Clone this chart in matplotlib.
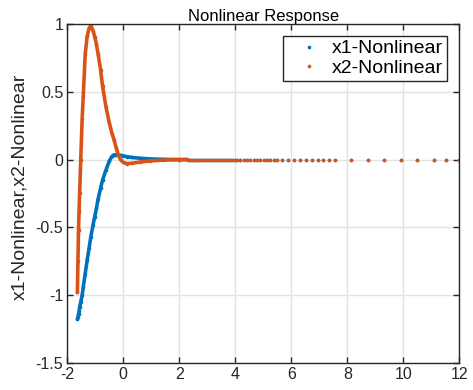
import matplotlib
matplotlib.use("Agg")
import matplotlib.pyplot as plt

plt.rcParams['font.family'] = ['Liberation Sans', 'DejaVu Sans']
plt.rcParams['axes.unicode_minus'] = False

# solver output, transient part (shared time axis)
t_curve = [-1.64, -1.62, -1.60, -1.58, -1.56, -1.52, -1.47, -1.43, -1.36, -1.29,
           -1.22, -1.16, -1.08, -1.02, -0.96, -0.90, -0.81, -0.74, -0.62, -0.50,
           -0.40, -0.33, -0.25, -0.18, -0.10, 0.0, 0.12, 0.30, 0.60, 0.95,
           1.40, 2.00, 2.30]
x1_curve = [-1.178, -1.16, -1.14, -1.12, -1.09, -1.05, -1.00, -0.94, -0.84, -0.74,
            -0.65, -0.57, -0.48, -0.42, -0.36, -0.29, -0.21, -0.15, -0.077, -0.01,
            0.025, 0.035, 0.036, 0.034, 0.031, 0.027, 0.022, 0.016, 0.010, 0.005,
            0.002, 0.0, 0.0]
x2_curve = [-0.98, -0.75, -0.52, -0.38, -0.25, 0.0, 0.30, 0.47, 0.78, 0.91,
            0.97, 0.985, 0.95, 0.905, 0.85, 0.78, 0.66, 0.54, 0.39, 0.27,
            0.19, 0.145, 0.085, 0.035, 0.0, -0.02, -0.03, -0.027, -0.018, -0.01,
            -0.004, 0.0, 0.0]

# steady part: both states sit at zero, steps get longer
t_tail = [2.37, 2.44, 2.51, 2.58, 2.65, 2.72, 2.79, 2.86, 2.93, 3.00,
          3.07, 3.14, 3.21, 3.28, 3.35, 3.42, 3.49, 3.56, 3.63, 3.70,
          3.77, 3.84, 3.91, 3.98, 4.05, 4.18, 4.30, 4.42, 4.54, 4.66,
          4.78, 4.90, 5.02, 5.13, 5.25, 5.37, 5.49, 5.68, 5.90, 6.11,
          6.31, 6.53, 6.74, 6.94, 7.15, 7.36, 7.56, 8.15, 8.73, 9.31,
          9.91, 10.49, 11.08, 11.54, 12.0]
x1_tail = [0.0] * len(t_tail)
x2_tail = [0.0] * len(t_tail)

blue = '#0072BD'
orange = '#D95319'
axcol = '#262626'

fig = plt.figure(figsize=(4.73, 3.90), dpi=100)
ax = fig.add_axes([0.1423, 0.0692, 0.8287, 0.8693])

ax.plot(t_curve, x1_curve, '-', color=blue, lw=2.6, solid_capstyle='round')
ax.plot(t_curve + t_tail, x1_curve + x1_tail, '.', color=blue, ms=3.2,
        label='x1-Nonlinear')
ax.plot(t_curve, x2_curve, '-', color=orange, lw=2.6, solid_capstyle='round')
ax.plot(t_curve + t_tail, x2_curve + x2_tail, '.', color=orange, ms=3.2,
        label='x2-Nonlinear')

ax.set_xlim(-2, 12)
ax.set_ylim(-1.5, 1)
ax.set_xticks(range(-2, 13, 2))
ax.set_yticks([-1.5, -1, -0.5, 0, 0.5, 1])
ax.set_yticklabels(['-1.5', '-1', '-0.5', '0', '0.5', '1'])
ax.grid(True, color='#e3e3e3', lw=1)
ax.set_axisbelow(True)
for s in ax.spines.values():
    s.set_color(axcol)
    s.set_linewidth(1)
ax.tick_params(direction='in', top=True, right=True, length=4, width=1,
               colors=axcol, labelsize=11.5, pad=3)
ax.tick_params(axis='x', pad=3)

ax.set_title('Nonlinear Response', fontsize=12, color='black', pad=2)
ax.set_ylabel('x1-Nonlinear,x2-Nonlinear', fontsize=14, color=axcol)
ax.yaxis.set_label_coords(-0.1, 0.52)

leg = ax.legend(loc='upper right', bbox_to_anchor=(0.9686, 0.9646), fontsize=14,
                frameon=True, fancybox=False, borderpad=0.2, handlelength=2.2,
                handletextpad=0.1, labelspacing=0.1, borderaxespad=0.0,
                markerscale=1.0)
leg.get_frame().set_edgecolor(axcol)
leg.get_frame().set_linewidth(1)
leg.get_frame().set_alpha(1)

fig.savefig('out.png', dpi=100)
